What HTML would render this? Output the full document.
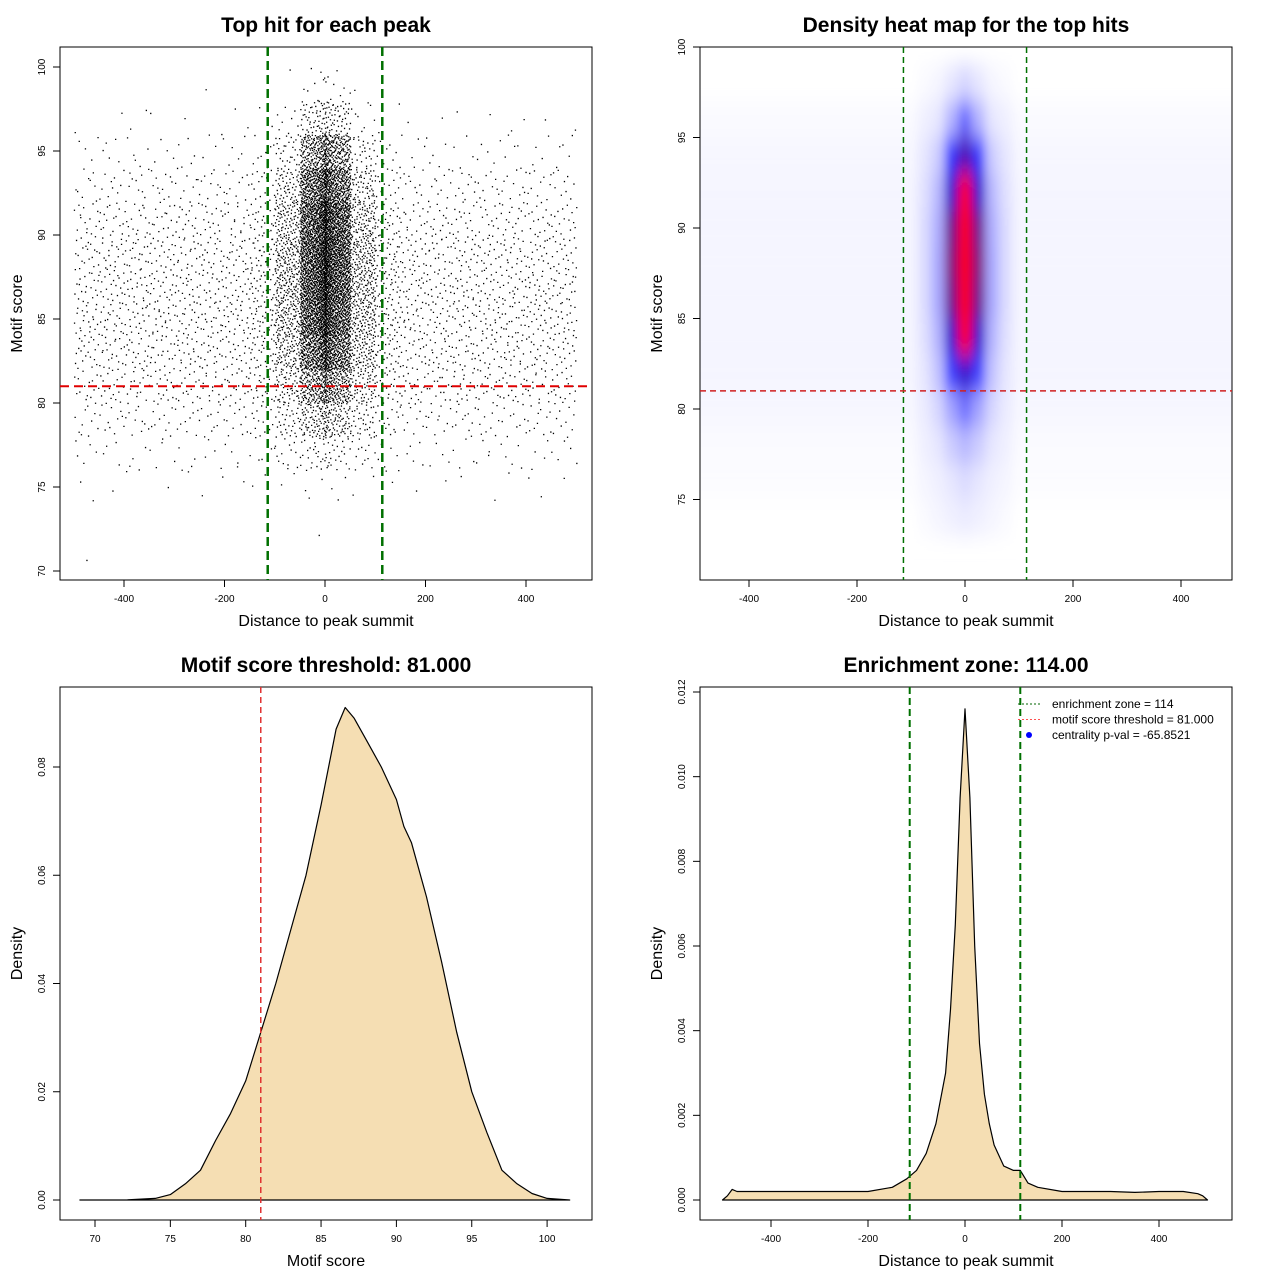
<!DOCTYPE html>
<html><head><meta charset="utf-8"><style>
html,body{margin:0;padding:0;background:#fff}
svg{display:block;font-family:"Liberation Sans",Arial,sans-serif}
</style></head><body>
<svg id="chart" width="1280" height="1280" viewBox="0 0 1280 1280" xmlns="http://www.w3.org/2000/svg">
<defs>
<filter id="blur" x="-50%" y="-50%" width="200%" height="200%"><feGaussianBlur stdDeviation="5 11"/></filter>
<clipPath id="clip2"><rect x="700" y="47" width="532" height="533"/></clipPath>
</defs>
<g id="p1"></g>
<g id="p2"></g>
<g id="p3"></g>
<g id="p4"></g>
</svg>
<script>
// ---------- DATA ----------
const scatterXBins = [-500,-450,-400,-350,-300,-250,-200,-150,-100,-50,0,50,100,150,200,250,300,350,400,450];
const scatterYBins = [70,72,74,76,78,80,82,84,86,88,90,92,94,96,98];
const scatterCounts = [
 [1,0,2,5,10,15,20,22,21,19,15,9,4,1,0],
 [0,0,1,4,11,17,21,22,23,20,16,10,5,1,0],
 [0,0,1,4,10,16,20,23,22,21,15,10,5,2,0],
 [0,0,1,5,10,17,19,22,22,20,16,11,4,1,0],
 [0,0,1,4,11,16,21,22,23,20,16,10,5,1,0],
 [0,0,2,4,10,16,20,23,22,20,17,10,4,1,1],
 [0,0,1,5,11,17,21,23,23,21,16,10,5,2,0],
 [0,0,2,6,15,24,31,34,34,31,25,16,8,2,0],
 [0,0,2,14,36,60,85,100,105,100,85,60,30,8,1],
 [0,1,3,25,85,180,320,400,430,430,400,320,190,55,8],
 [0,0,3,25,85,180,320,400,430,430,400,320,190,55,8],
 [0,0,2,14,36,60,85,100,105,100,85,60,30,8,1],
 [0,0,2,6,15,24,31,34,34,31,25,16,8,2,0],
 [0,0,1,5,11,17,21,23,23,21,16,10,5,1,0],
 [0,0,1,4,10,16,20,22,22,20,16,10,5,1,0],
 [0,0,1,4,11,17,21,22,23,20,16,11,4,1,0],
 [0,0,1,5,10,16,20,23,22,21,15,10,5,1,0],
 [0,0,1,4,10,17,21,22,22,20,16,10,5,2,0],
 [0,0,2,4,11,16,20,23,23,20,16,10,4,1,0],
 [0,0,1,5,10,16,20,22,22,20,15,9,5,1,0]
];
const heatCols = [-75,-50,-25,0,25,50,75];
const heatRows = [74,76,78,80,82,84,86,88,90,92,94,96,98];
const heatVals = [
 [0.01,0.02,0.03,0.04,0.05,0.06,0.07,0.07,0.07,0.06,0.05,0.03,0.01],
 [0.02,0.03,0.05,0.08,0.12,0.15,0.17,0.17,0.16,0.14,0.10,0.05,0.02],
 [0.03,0.05,0.10,0.18,0.38,0.60,0.72,0.75,0.72,0.60,0.40,0.15,0.05],
 [0.04,0.07,0.14,0.28,0.60,1.00,1.00,1.00,1.00,1.00,0.65,0.30,0.08],
 [0.03,0.05,0.10,0.18,0.38,0.60,0.72,0.75,0.72,0.60,0.40,0.15,0.05],
 [0.02,0.03,0.05,0.08,0.12,0.15,0.17,0.17,0.16,0.14,0.10,0.05,0.02],
 [0.01,0.02,0.03,0.04,0.05,0.06,0.07,0.07,0.07,0.06,0.05,0.03,0.01]
];
const heatBg = [0.0,0.005,0.01,0.015,0.02,0.02,0.02,0.02,0.02,0.02,0.015,0.01,0.0];
const scoreX = [69,72,74,75,76,77,78,79,80,81,82,83,84,85,86,86.6,87.2,88,89,90,90.5,91,92,93,94,95,96,97,98,99,100,101.5];
const scoreY = [0,0,0.0003,0.001,0.003,0.0055,0.011,0.016,0.022,0.031,0.04,0.05,0.06,0.073,0.087,0.091,0.089,0.085,0.08,0.074,0.069,0.066,0.056,0.044,0.031,0.02,0.0125,0.0055,0.003,0.0012,0.0003,0];
const distX = [-500,-490,-480,-470,-450,-400,-350,-300,-250,-200,-150,-120,-100,-80,-60,-40,-30,-20,-10,0,10,20,30,40,50,60,80,100,114,130,150,200,250,300,350,400,450,480,490,500];
const distY = [0,0.0001,0.00025,0.0002,0.0002,0.0002,0.0002,0.0002,0.0002,0.0002,0.0003,0.0005,0.0007,0.0011,0.0018,0.003,0.0045,0.0065,0.0095,0.0116,0.0095,0.006,0.0037,0.0025,0.0018,0.0013,0.0008,0.0007,0.0007,0.0004,0.0003,0.0002,0.0002,0.0002,0.00018,0.0002,0.0002,0.00015,0.0001,0];
const ticks1X = [-400,-200,0,200,400], ticks1Y = [70,75,80,85,90,95,100];
const ticks2Y = [75,80,85,90,95,100];
const ticks3X = [70,75,80,85,90,95,100], ticks3Y = [0,0.02,0.04,0.06,0.08];
const ticks4X = [-400,-200,0,200,400], ticks4Y = [0,0.002,0.004,0.006,0.008,0.010,0.012];
const zone = 114, threshold = 81;

// ---------- HELPERS ----------
const NS = "http://www.w3.org/2000/svg";
function mk(parent, tag, attrs, text){
  const e = document.createElementNS(NS, tag);
  for (const k in attrs) e.setAttribute(k, attrs[k]);
  if (text !== undefined) e.textContent = text;
  parent.appendChild(e); return e;
}
function frame(g, box, title, xlab, ylab, xt, yt, sx, sy, fmtY){
  const r = mk(g,'rect',{x:box[0],y:box[1],width:box[2]-box[0],height:box[3]-box[1],fill:'none',stroke:'#000','stroke-width':1});
  
  
  const t = mk(g,'text',{x:(box[0]+box[2])/2,y:box[1]-15,'text-anchor':'middle','font-size':21,'font-weight':'bold'},title);
  
  
  const xl = mk(g,'text',{x:(box[0]+box[2])/2,y:box[3]+46,'text-anchor':'middle','font-size':16},xlab);
  
  
  const yx = box[0]-38, yy=(box[1]+box[3])/2;
  const yl = mk(g,'text',{x:yx,y:yy,'text-anchor':'middle','font-size':16,transform:`rotate(-90 ${yx} ${yy})`},ylab);
  
  
  const xa = mk(g,'g',{});
  
  
  const x0 = sx(xt[0]), x1 = sx(xt[xt.length-1]);
  mk(xa,'line',{x1:x0,x2:x1,y1:box[3],y2:box[3],stroke:'#000'});
  xt.forEach(v=>{
    const x = sx(v);
    mk(xa,'line',{x1:x,x2:x,y1:box[3],y2:box[3]+7,stroke:'#000'});
    const tl = mk(xa,'text',{x:x,y:box[3]+22,'text-anchor':'middle','font-size':10},String(v));
    
    
  });
  const ya = mk(g,'g',{});
  
  
  mk(ya,'line',{x1:box[0],x2:box[0],y1:sy(yt[0]),y2:sy(yt[yt.length-1]),stroke:'#000'});
  yt.forEach(v=>{
    const y = sy(v);
    mk(ya,'line',{x1:box[0]-7,x2:box[0],y1:y,y2:y,stroke:'#000'});
    const lx = box[0]-15;
    const tl = mk(ya,'text',{x:lx,y:y,'text-anchor':'middle','font-size':10,transform:`rotate(-90 ${lx} ${y})`},fmtY?fmtY(v):String(v));
    
    
  });
}
function vline(g,x,y0,y1,color,dash,w,name){
  const l = mk(g,'line',{x1:x,x2:x,y1:y0,y2:y1,stroke:color,'stroke-width':w,'stroke-dasharray':dash});
  
  
}
function hline(g,y,x0,x1,color,dash,w,name){
  const l = mk(g,'line',{x1:x0,x2:x1,y1:y,y2:y,stroke:color,'stroke-width':w,'stroke-dasharray':dash});
  
  
}
function halton(i,b){let f=1,r=0;while(i>0){f/=b;r+=f*(i%b);i=Math.floor(i/b);}return r;}

// ---------- PANEL 1 ----------
(function(){
  const g = document.getElementById('p1');
  const sx = v=>325+v*0.5025, sy = v=>403-(v-80)*16.8;
  frame(g,[60,47,592,580],'Top hit for each peak','Distance to peak summit','Motif score',ticks1X,ticks1Y,sx,sy);
  const pts = mk(g,'g',{});
  
  
  let idx = 1, d = '';
  scatterXBins.forEach((xb,i)=>{
    scatterYBins.forEach((yb,j)=>{
      const n = scatterCounts[i][j];
      const central = (xb===-50||xb===0);
      for(let k=0;k<n;k++){
        let fx = halton(idx,2), fy = halton(idx,3); idx++;
        if(central){ fx = xb===0 ? Math.pow(fx,1.25) : 1-Math.pow(fx,1.25); }
        const x = sx(xb+fx*50), y = sy(yb+fy*2);
        d += `M${x.toFixed(1)} ${y.toFixed(1)}h1.3v1.3h-1.3z`;
      }
    });
  });
  mk(pts,'path',{d:d,fill:'#000'});
  vline(g,sx(-zone),47,580,'#007000','9 5',2.5,'enrichment-zone-left');
  vline(g,sx(zone),47,580,'#007000','9 5',2.5,'enrichment-zone-right');
  hline(g,sy(threshold),60,592,'#e00000','9 5',2,'score-threshold-line');
})();

// ---------- PANEL 2 ----------
(function(){
  const g = document.getElementById('p2');
  const sx = v=>965+v*0.54, sy = v=>409-(v-80)*18.1;
  const hm = mk(g,'g',{'clip-path':'url(#clip2)'});
  
  
  const inner = mk(hm,'g',{filter:'url(#blur)'});
  function col(v){v=Math.min(1,v);
    if(v<0.5){const t=v/0.5;const c=Math.round(255*(1-t));return `rgb(${c},${c},255)`;}
    const t=(v-0.5)/0.5;return `rgb(${Math.round(255*t)},0,${Math.round(255*(1-t))})`;}
  heatRows.forEach((yv,j)=>{
    const c = mk(inner,'rect',{x:690,y:sy(yv+1),width:560,height:sy(yv-1)-sy(yv+1),fill:col(heatBg[j])});
    
    
  });
  heatCols.forEach((xv,i)=>{
    heatRows.forEach((yv,j)=>{
      const c = mk(inner,'rect',{x:sx(xv-12.5),y:sy(yv+1),width:sx(xv+12.5)-sx(xv-12.5),height:sy(yv-1)-sy(yv+1),fill:col(heatVals[i][j])});
      
      
    });
  });
  frame(g,[700,47,1232,580],'Density heat map for the top hits','Distance to peak summit','Motif score',[-400,-200,0,200,400],ticks2Y,sx,sy);
  vline(g,sx(-zone),47,580,'#007000','6 4',1.5,'enrichment-zone-left');
  vline(g,sx(zone),47,580,'#007000','6 4',1.5,'enrichment-zone-right');
  hline(g,sy(threshold),700,1232,'#d02020','6 4',1.5,'score-threshold-line');
})();

// ---------- PANEL 3 ----------
(function(){
  const g = document.getElementById('p3');
  const sx = v=>95+(v-70)*15.07, sy = v=>1200-v*5412.5;
  frame(g,[60,687,592,1220],'Motif score threshold: 81.000','Motif score','Density',ticks3X,ticks3Y,sx,sy,v=>v.toFixed(2));
  let d = `M${sx(scoreX[0])} ${sy(0)}`;
  scoreX.forEach((x,i)=>{ d += `L${sx(x).toFixed(1)} ${sy(scoreY[i]).toFixed(1)}`; });
  d += `L${sx(scoreX[scoreX.length-1])} ${sy(0)}Z`;
  const a = mk(g,'path',{d:d,fill:'#f5deb3',stroke:'#000','stroke-width':1.2,'stroke-linejoin':'round'});
  
  
  vline(g,sx(threshold),687,1220,'#e03030','6 4',1.5,'score-threshold-line');
})();

// ---------- PANEL 4 ----------
(function(){
  const g = document.getElementById('p4');
  const sx = v=>965+v*0.485, sy = v=>1200-v*42333;
  frame(g,[700,687,1232,1220],'Enrichment zone: 114.00','Distance to peak summit','Density',ticks4X,ticks4Y,sx,sy,v=>v.toFixed(3));
  let d = `M${sx(distX[0])} ${sy(0)}`;
  distX.forEach((x,i)=>{ d += `L${sx(x).toFixed(1)} ${sy(distY[i]).toFixed(1)}`; });
  d += 'Z';
  const a = mk(g,'path',{d:d,fill:'#f5deb3',stroke:'#000','stroke-width':1.2,'stroke-linejoin':'round'});
  
  
  vline(g,sx(-zone),687,1220,'#007000','7 4',2,'enrichment-zone-left');
  vline(g,sx(zone),687,1220,'#007000','7 4',2,'enrichment-zone-right');
  const lg = mk(g,'g',{});
  
  
  const items = [['enrichment zone = 114','#006400','line'],['motif score threshold = 81.000','#ff5050','line'],['centrality p-val = -65.8521','#0000ff','dot']];
  items.forEach((it,i)=>{
    const y = 704+i*15.5;
    const e = mk(lg,'g',{});
    
    
    if(it[2]==='line') mk(e,'line',{x1:1018,x2:1042,y1:y,y2:y,stroke:it[1],'stroke-dasharray':'2 2','stroke-width':1});
    else mk(e,'circle',{cx:1029,cy:y,r:3,fill:it[1]});
    mk(e,'text',{x:1052,y:y+4,'font-size':12},it[0]);
  });
})();
</script>
</body></html>
